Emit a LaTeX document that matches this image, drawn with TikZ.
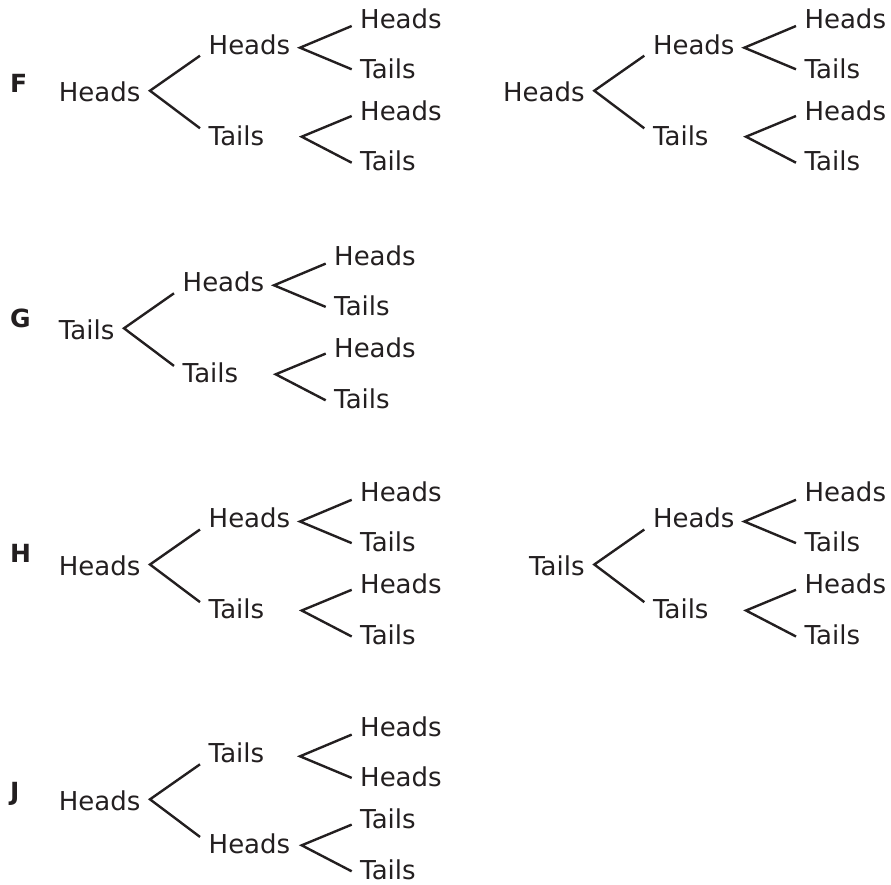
\documentclass[tikz,border=0pt]{standalone}
\usepackage{fontspec}
\setmainfont{DejaVu Sans}
\definecolor{ink}{RGB}{35,31,32}
\tikzset{
  lbl/.style={inner sep=0pt, font=\fontsize{26}{30}\selectfont, text=ink},
  tag/.style={inner sep=0pt, anchor=base west, font=\fontsize{25}{29}\selectfont\bfseries, text=ink},
  branch/.style={line width=2.4pt, draw=ink},
}
\newcommand\cointree[9]{%
  \begin{scope}[shift={#2}]
    \coordinate (#1a) at (0,0);
    \node[lbl, anchor=base east] (#1r) at (-9.5,11) {#3};
    \coordinate (#1u) at (50,-35);
    \coordinate (#1d) at (50,37.6);
    \draw[branch] (#1u) -- (#1a) -- (#1d);
    \node[lbl, anchor=base west] (#1c1) at (58.5,-36.7) {#4};
    \node[lbl, anchor=base west] (#1c2) at (58.5,54.3) {#5};
    \coordinate (#1ua) at (150,-43);
    \coordinate (#1uu) at (201.7,-64.7);
    \coordinate (#1ud) at (201.7,-21.4);
    \draw[branch] (#1uu) -- (#1ua) -- (#1ud);
    \coordinate (#1da) at (151.7,46);
    \coordinate (#1du) at (201.7,25.3);
    \coordinate (#1dd) at (201.7,72);
    \draw[branch] (#1du) -- (#1da) -- (#1dd);
    \node[lbl, anchor=base west] (#1l1) at (210,-62.7) {#6};
    \node[lbl, anchor=base west] (#1l2) at (210,-12.7) {#7};
    \node[lbl, anchor=base west] (#1l3) at (210,29.3) {#8};
    \node[lbl, anchor=base west] (#1l4) at (210,80) {#9};
  \end{scope}}
\begin{document}
\begin{tikzpicture}[x=1pt,y=-1pt]
  \useasboundingbox (0,0) rectangle (891,884);
  \node[tag] (tagF) at (10,92) {F};
  \node[tag] (tagG) at (10,327.3) {G};
  \node[tag] (tagH) at (10,562.7) {H};
  \node[tag] (tagJ) at (10,800) {J};
  \cointree{fa}{(150,90.7)}{Heads}{Heads}{Tails}{Heads}{Tails}{Heads}{Tails}
  \cointree{fb}{(594.3,90.7)}{Heads}{Heads}{Tails}{Heads}{Tails}{Heads}{Tails}
  \cointree{ga}{(124,328.3)}{Tails}{Heads}{Tails}{Heads}{Tails}{Heads}{Tails}
  \cointree{ha}{(150,564.5)}{Heads}{Heads}{Tails}{Heads}{Tails}{Heads}{Tails}
  \cointree{hb}{(594.3,564.5)}{Tails}{Heads}{Tails}{Heads}{Tails}{Heads}{Tails}
  \cointree{ja}{(150,799.3)}{Heads}{Tails}{Heads}{Heads}{Heads}{Tails}{Tails}
\end{tikzpicture}
\end{document}
